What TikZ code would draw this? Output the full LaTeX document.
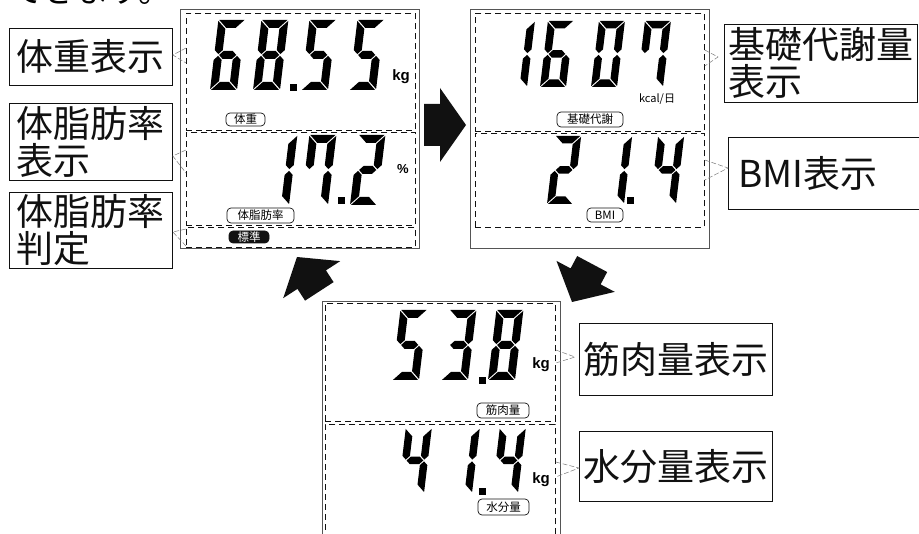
\documentclass[tikz,border=0pt]{standalone}
\usepackage{fontspec}
\setmainfont{Noto Sans CJK JP}
\newfontfamily\unitfont{Liberation Sans}
\usetikzlibrary{calc}
\definecolor{Ink}{HTML}{111111}
\definecolor{Frame}{HTML}{555555}
\definecolor{Muted}{HTML}{7A7A7A}
\tikzset{labelbox/.style={draw=Ink,line width=0.8pt,anchor=north west,align=left,
    inner ysep=0pt,font=\fontsize{37}{37}\selectfont,text=Ink},
  panel/.style={draw=Frame,line width=1pt,anchor=north west,inner sep=0pt},
  lcdsection/.style={draw=Ink,line width=0.8pt,dash pattern=on 6pt off 4pt,
    anchor=north west,inner sep=0pt},
  tag/.style={draw=Ink,line width=0.7pt,rounded corners=4pt,inner sep=0pt,
    font=\fontsize{11.5}{12}\selectfont},
  unitlbl/.style={font=\unitfont\bfseries\fontsize{15}{15}\selectfont,inner sep=0pt},
  leader/.style={draw=Muted,line width=0.5pt,dash pattern=on 5pt off 2pt}}

% seven segment digit, local y up, origin at bottom left of the cell
\def\lcdW{27}\def\lcdH{70}\def\lcdT{8}\def\lcdG{0.9}
\newcommand\lcdsega{\fill (\lcdG,\lcdH) -- ({\lcdW-\lcdG},\lcdH) -- ({\lcdW-\lcdT-\lcdG},{\lcdH-\lcdT}) -- ({\lcdT+\lcdG},{\lcdH-\lcdT}) -- cycle;}
\newcommand\lcdsegd{\fill (\lcdG,0) -- ({\lcdW-\lcdG},0) -- ({\lcdW-\lcdT-\lcdG},\lcdT) -- ({\lcdT+\lcdG},\lcdT) -- cycle;}
\newcommand\lcdsegf{\fill (0,{\lcdH-\lcdG}) -- (\lcdT,{\lcdH-\lcdT-\lcdG}) -- (\lcdT,{\lcdH/2+\lcdT/2+\lcdG}) -- ({\lcdT/2},{\lcdH/2+\lcdG}) -- (0,{\lcdH/2+\lcdT/2+\lcdG}) -- cycle;}
\newcommand\lcdsege{\fill (0,\lcdG) -- (\lcdT,{\lcdT+\lcdG}) -- (\lcdT,{\lcdH/2-\lcdT/2-\lcdG}) -- ({\lcdT/2},{\lcdH/2-\lcdG}) -- (0,{\lcdH/2-\lcdT/2-\lcdG}) -- cycle;}
\newcommand\lcdsegb{\fill (\lcdW,{\lcdH-\lcdG}) -- ({\lcdW-\lcdT},{\lcdH-\lcdT-\lcdG}) -- ({\lcdW-\lcdT},{\lcdH/2+\lcdT/2+\lcdG}) -- ({\lcdW-\lcdT/2},{\lcdH/2+\lcdG}) -- (\lcdW,{\lcdH/2+\lcdT/2+\lcdG}) -- cycle;}
\newcommand\lcdsegc{\fill (\lcdW,\lcdG) -- ({\lcdW-\lcdT},{\lcdT+\lcdG}) -- ({\lcdW-\lcdT},{\lcdH/2-\lcdT/2-\lcdG}) -- ({\lcdW-\lcdT/2},{\lcdH/2-\lcdG}) -- (\lcdW,{\lcdH/2-\lcdT/2-\lcdG}) -- cycle;}
\newcommand\lcdsegg{\fill ({\lcdT/2+\lcdG},{\lcdH/2}) -- ({\lcdT+\lcdG},{\lcdH/2+\lcdT/2}) -- ({\lcdW-\lcdT-\lcdG},{\lcdH/2+\lcdT/2}) -- ({\lcdW-\lcdT/2-\lcdG},{\lcdH/2}) -- ({\lcdW-\lcdT-\lcdG},{\lcdH/2-\lcdT/2}) -- ({\lcdT+\lcdG},{\lcdH/2-\lcdT/2}) -- cycle;}
\newcommand\digitsegs[1]{\ifcase#1 a,b,c,d,e,f\or b,c\or a,b,g,e,d\or a,b,g,c,d\or b,c,f,g\or a,c,d,f,g\or a,c,d,e,f,g\or a,b,c,f\or a,b,c,d,e,f,g\or a,b,c,d,f,g\fi}
\newcommand\lcddigit[3]{%
  \edef\seglist{\digitsegs{#3}}%
  \begin{scope}[shift={(#1,#2)},x=1pt,y=1pt,xslant=0.12]
    \foreach \s in \seglist {\csname lcdseg\s\endcsname}
  \end{scope}}
\newcommand\lcddot[2]{\fill (#1,#2) rectangle ++(6.5,-6.5);}
% tip, angle, head length, head half width, shaft half width, shaft length
\newcommand\blockarrow[6]{\fill[Ink,shift={(#1)},rotate=#2] (0,0) -- (-#3,#4) -- (-#3,#5) -- ({-#3-#6},#5) -- ({-#3-#6},-#5) -- (-#3,-#5) -- (-#3,-#4) -- cycle;}

\begin{document}
\begin{tikzpicture}[x=1pt,y=-1pt]
  \useasboundingbox (0,0) rectangle (919,534);
  \node[anchor=base west,inner sep=0pt,font=\fontsize{33}{33}\selectfont] (note) at (10,3) {できます。};

  % panels and their sections
  \node[panel,minimum width=239pt,minimum height=239pt] (lpanel) at (180,9) {};
  \node[panel,minimum width=239pt,minimum height=239pt] (rpanel) at (470,9) {};
  \node[panel,minimum width=238pt,minimum height=245pt] (bpanel) at (322,301) {};
  \node[lcdsection,minimum width=229pt,minimum height=117pt] (weightsec) at (186,13) {};
  \node[lcdsection,minimum width=229pt,minimum height=93pt] (fatsec) at (186,132) {};
  \node[lcdsection,minimum width=229pt,minimum height=20pt] (judgesec) at (186,227) {};
  \node[lcdsection,minimum width=229pt,minimum height=118pt] (bmrsec) at (475,13) {};
  \node[lcdsection,minimum width=229pt,minimum height=94pt] (bmisec) at (475,133) {};
  \node[lcdsection,minimum width=230pt,minimum height=118pt] (musclesec) at (325,303) {};
  \node[lcdsection,minimum width=230pt,minimum height=130pt] (watersec) at (325,424) {};

  % readings
  \lcddigit{210}{90}{6} \lcddigit{253}{90}{8} \lcddot{290}{91}
  \lcddigit{301}{90}{5} \lcddigit{349}{90}{5}
  \lcddigit{262}{205}{1} \lcddigit{301}{205}{7} \lcddot{338}{204} \lcddigit{350}{205}{2}
  \lcddigit{392}{380}{5} \lcddigit{441}{380}{3} \lcddot{479}{384} \lcddigit{488}{380}{8}
  \def\lcdW{26}\def\lcdH{66}\def\lcdT{7.5}
  \lcddigit{501}{87}{1} \lcddigit{540}{87}{6} \lcddigit{591}{87}{0} \lcddigit{637}{87}{7}
  \def\lcdH{65}
  \lcddigit{398}{493}{4} \lcddigit{446}{493}{1} \lcddot{479}{495} \lcddigit{492}{493}{4}
  \def\lcdH{68}
  \lcddigit{547}{204}{2} \lcddigit{598}{204}{1} \lcddot{627}{204} \lcddigit{650}{204}{4}

  \node[unitlbl] (kgw) at (401,77) {kg};
  \node[unitlbl,font=\unitfont\bfseries\fontsize{13}{13}\selectfont] (pct) at (403,169) {\%};
  \node[inner sep=0pt,font=\fontsize{11}{11}\selectfont] (kcal) at (657,99) {kcal/日};
  \node[unitlbl] (kgm) at (541,365) {kg};
  \node[unitlbl] (kga) at (541,480) {kg};

  \node[tag,minimum width=39pt,minimum height=13pt] (wtag) at (245.5,119.5) {体重};
  \node[tag,minimum width=67pt,minimum height=15pt] (ftag) at (260.5,215.5) {体脂肪率};
  \node[tag,fill=Ink,text=white,minimum width=40pt,minimum height=12pt] (jtag) at (249,237) {標準};
  \node[tag,minimum width=66pt,minimum height=15pt] (btag) at (590,119.5) {基礎代謝};
  \node[tag,minimum width=36pt,minimum height=14pt] (itag) at (605,215) {BMI};
  \node[tag,minimum width=52pt,minimum height=15pt] (mtag) at (503,410.5) {筋肉量};
  \node[tag,minimum width=51pt,minimum height=16pt] (atag) at (503.5,507) {水分量};

  % callouts
  \node[labelbox,inner xsep=7.5pt,minimum height=57pt] (weightlbl) at (9,28) {体重表示};
  \node[labelbox,inner xsep=7.5pt,minimum height=77pt] (fatlbl) at (9,103) {体脂肪率\\表示};
  \node[labelbox,inner xsep=7.5pt,minimum height=76pt] (judgelbl) at (9,192) {体脂肪率\\判定};
  \node[labelbox,inner xsep=4pt,minimum height=78pt] (bmrlbl) at (724,24) {基礎代謝量\\表示};
  \node[labelbox,inner xsep=10pt,text width=180pt,minimum height=72pt] (bmilbl) at (728,137) {BMI表示};
  \node[labelbox,inner xsep=4pt,minimum height=72pt] (musclelbl) at (579,323) {筋肉量表示};
  \node[labelbox,inner xsep=4pt,minimum height=70pt] (waterlbl) at (579,431) {水分量表示};

  \draw[leader] (weightsec.west |- 0,48) -- (weightlbl.east |- 0,55) -- (weightsec.west |- 0,63);
  \draw[leader] (fatsec.west |- 0,150) -- (fatlbl.east |- 0,156) -- (fatsec.west |- 0,173);
  \draw[leader] (judgesec.west |- 0,229) -- (judgelbl.east |- 0,232) -- (judgesec.west |- 0,246);
  \draw[leader] (bmrsec.east |- 0,50) -- ($(bmrlbl.west |- 0,57)+(-6,0)$) -- (bmrsec.east |- 0,66);
  \draw[leader] (bmisec.east |- 0,160) -- (bmilbl.west |- 0,168) -- (bmisec.east |- 0,180);
  \draw[leader] (musclesec.east |- 0,350) -- ($(musclelbl.west |- 0,357)+(-4,0)$) -- (musclesec.east |- 0,363);
  \draw[leader] (watersec.east |- 0,462) -- (waterlbl.west |- 0,468) -- (watersec.east |- 0,477);

  % display order
  \blockarrow{466,125}{0}{26}{37}{21}{16}
  \blockarrow{297,257}{123}{27}{34}{17}{14}
  \blockarrow{572,302}{242}{29}{33}{17}{14}
\end{tikzpicture}
\end{document}
